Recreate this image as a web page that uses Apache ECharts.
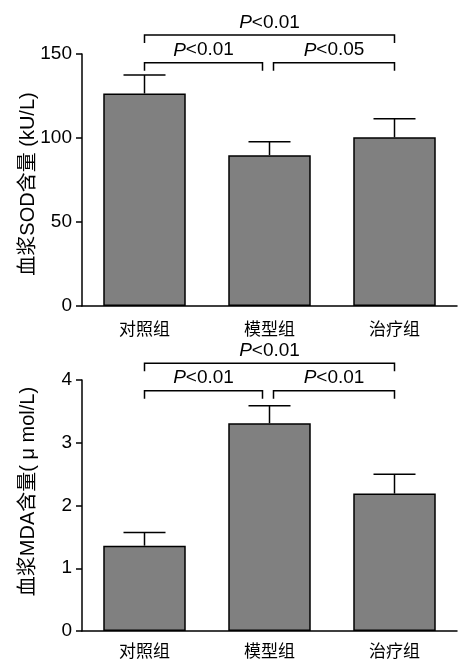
<!DOCTYPE html>
<html>
<head>
<meta charset="utf-8">
<script src="https://cdn.jsdelivr.net/npm/echarts@6/dist/echarts.min.js"></script>
<style>html,body{margin:0;padding:0;background:#fff}#c{width:461px;height:661px}</style>
</head>
<body>
<div id="c"></div>
<script>
var categories = ['对照组', '模型组', '治疗组'];
var sodMean = [126.5, 89.8, 100.4];
var sodSd = [11, 8, 11];
var mdaMean = [1.36, 3.31, 2.19];
var mdaSd = [0.21, 0.28, 0.31];
// [from category, to category, bracket level, p text]
var sodBrackets = [[0, 2, 161.3, '<0.01'], [0, 1, 144.8, '<0.01'], [1, 2, 144.8, '<0.05']];
var mdaBrackets = [[0, 2, 4.265, '<0.01'], [0, 1, 3.83, '<0.01'], [1, 2, 3.83, '<0.01']];
var sodName = '血浆SOD含量 (kU/L)';
var mdaName = '血浆MDA含量( μ mol/L)';

var FONT = "'Liberation Sans', Arial, 'Noto Sans CJK SC', sans-serif";

function errRender(params, api) {
  var c = api.value(0), m = api.value(1), s = api.value(2);
  var p0 = api.coord([c, m]);
  var p1 = api.coord([c, m + s]);
  var st = {stroke: '#000', lineWidth: 1.5, fill: null};
  return {type: 'group', children: [
    {type: 'line', shape: {x1: p0[0], y1: p0[1], x2: p1[0], y2: p1[1]}, style: st},
    {type: 'line', shape: {x1: p1[0] - 21, y1: p1[1], x2: p1[0] + 21, y2: p1[1]}, style: st}
  ]};
}

var bracketSets = {};

function bracketRender(params, api) {
  var a = api.value(0), b = api.value(1), lv = api.value(2);
  var txt = bracketSets[params.seriesIndex][params.dataIndex][3];
  var pa = api.coord([a, lv]);
  var pb = api.coord([b, lv]);
  var xa = pa[0], xb = pb[0], y = pa[1];
  if (a === 1) xa += 4;
  if (b === 1) xb -= 7;
  return {type: 'group', children: [
    {type: 'polyline', shape: {points: [[xa, y + 8], [xa, y], [xb, y], [xb, y + 8]]},
      style: {stroke: '#000', lineWidth: 1.5, fill: null}},
    {type: 'text', style: {
      text: '{i|P}{n|' + txt + '}', x: (xa + xb) / 2, y: y - 3, align: 'center', verticalAlign: 'bottom',
      fontSize: 19, fontFamily: FONT, fill: '#000',
      rich: {
        i: {fontStyle: 'italic', fontSize: 19, fontFamily: FONT, fill: '#000'},
        n: {fontSize: 19, fontFamily: FONT, fill: '#000'}
      }
    }}
  ]};
}

function xAx(gi, margin) {
  return {
    type: 'category', gridIndex: gi, data: categories,
    axisLine: {lineStyle: {color: '#000', width: 1.5}},
    axisTick: {alignWithLabel: true, length: 7, lineStyle: {color: '#000', width: 1.5}},
    axisLabel: {color: '#000', fontSize: 17, fontFamily: FONT, margin: margin}
  };
}
function yAx(gi, max, interval, name, pad) {
  return {
    type: 'value', gridIndex: gi, min: 0, max: max, interval: interval,
    name: name, nameLocation: 'middle', nameGap: 44, nameMoveOverlap: false,
    nameTextStyle: {color: '#000', fontSize: 20, fontFamily: FONT, padding: pad},
    axisLine: {show: true, lineStyle: {color: '#000', width: 1.5}},
    axisTick: {show: true, length: 6, lineStyle: {color: '#000', width: 1.5}},
    axisLabel: {color: '#000', fontSize: 19, fontFamily: FONT, margin: 10},
    splitLine: {show: false}
  };
}

var series = [];
function addSet(gi, means, sds, brackets) {
  series.push({
    type: 'bar', xAxisIndex: gi, yAxisIndex: gi, data: means, barWidth: '66%',
    itemStyle: {color: '#808080', borderColor: '#000', borderWidth: 1.5}, silent: true
  });
  series.push({
    type: 'custom', xAxisIndex: gi, yAxisIndex: gi, renderItem: errRender, clip: false, silent: true,
    data: means.map(function (m, i) { return [i, m, sds[i]]; }), z: 3
  });
  bracketSets[series.length] = brackets;
  series.push({
    type: 'custom', xAxisIndex: gi, yAxisIndex: gi, renderItem: bracketRender, clip: false, silent: true,
    data: brackets.map(function (b) { return [b[0], b[1], b[2]]; }), z: 4
  });
}
addSet(0, sodMean, sodSd, sodBrackets);
addSet(1, mdaMean, mdaSd, mdaBrackets);

var chart = echarts.init(document.getElementById('c'), null, {renderer: 'canvas'});
chart.setOption({
  animation: false,
  backgroundColor: '#fff',
  grid: [
    {left: 82, top: 54, width: 375, height: 252},
    {left: 82, top: 380, width: 375, height: 251}
  ],
  xAxis: [xAx(0, 16), xAx(1, 13)],
  yAxis: [yAx(0, 150, 50, sodName, [0, 8, 0, 0]), yAx(1, 4, 1, mdaName, [0, 0, 0, 28])],
  series: series
});
</script>
</body>
</html>
